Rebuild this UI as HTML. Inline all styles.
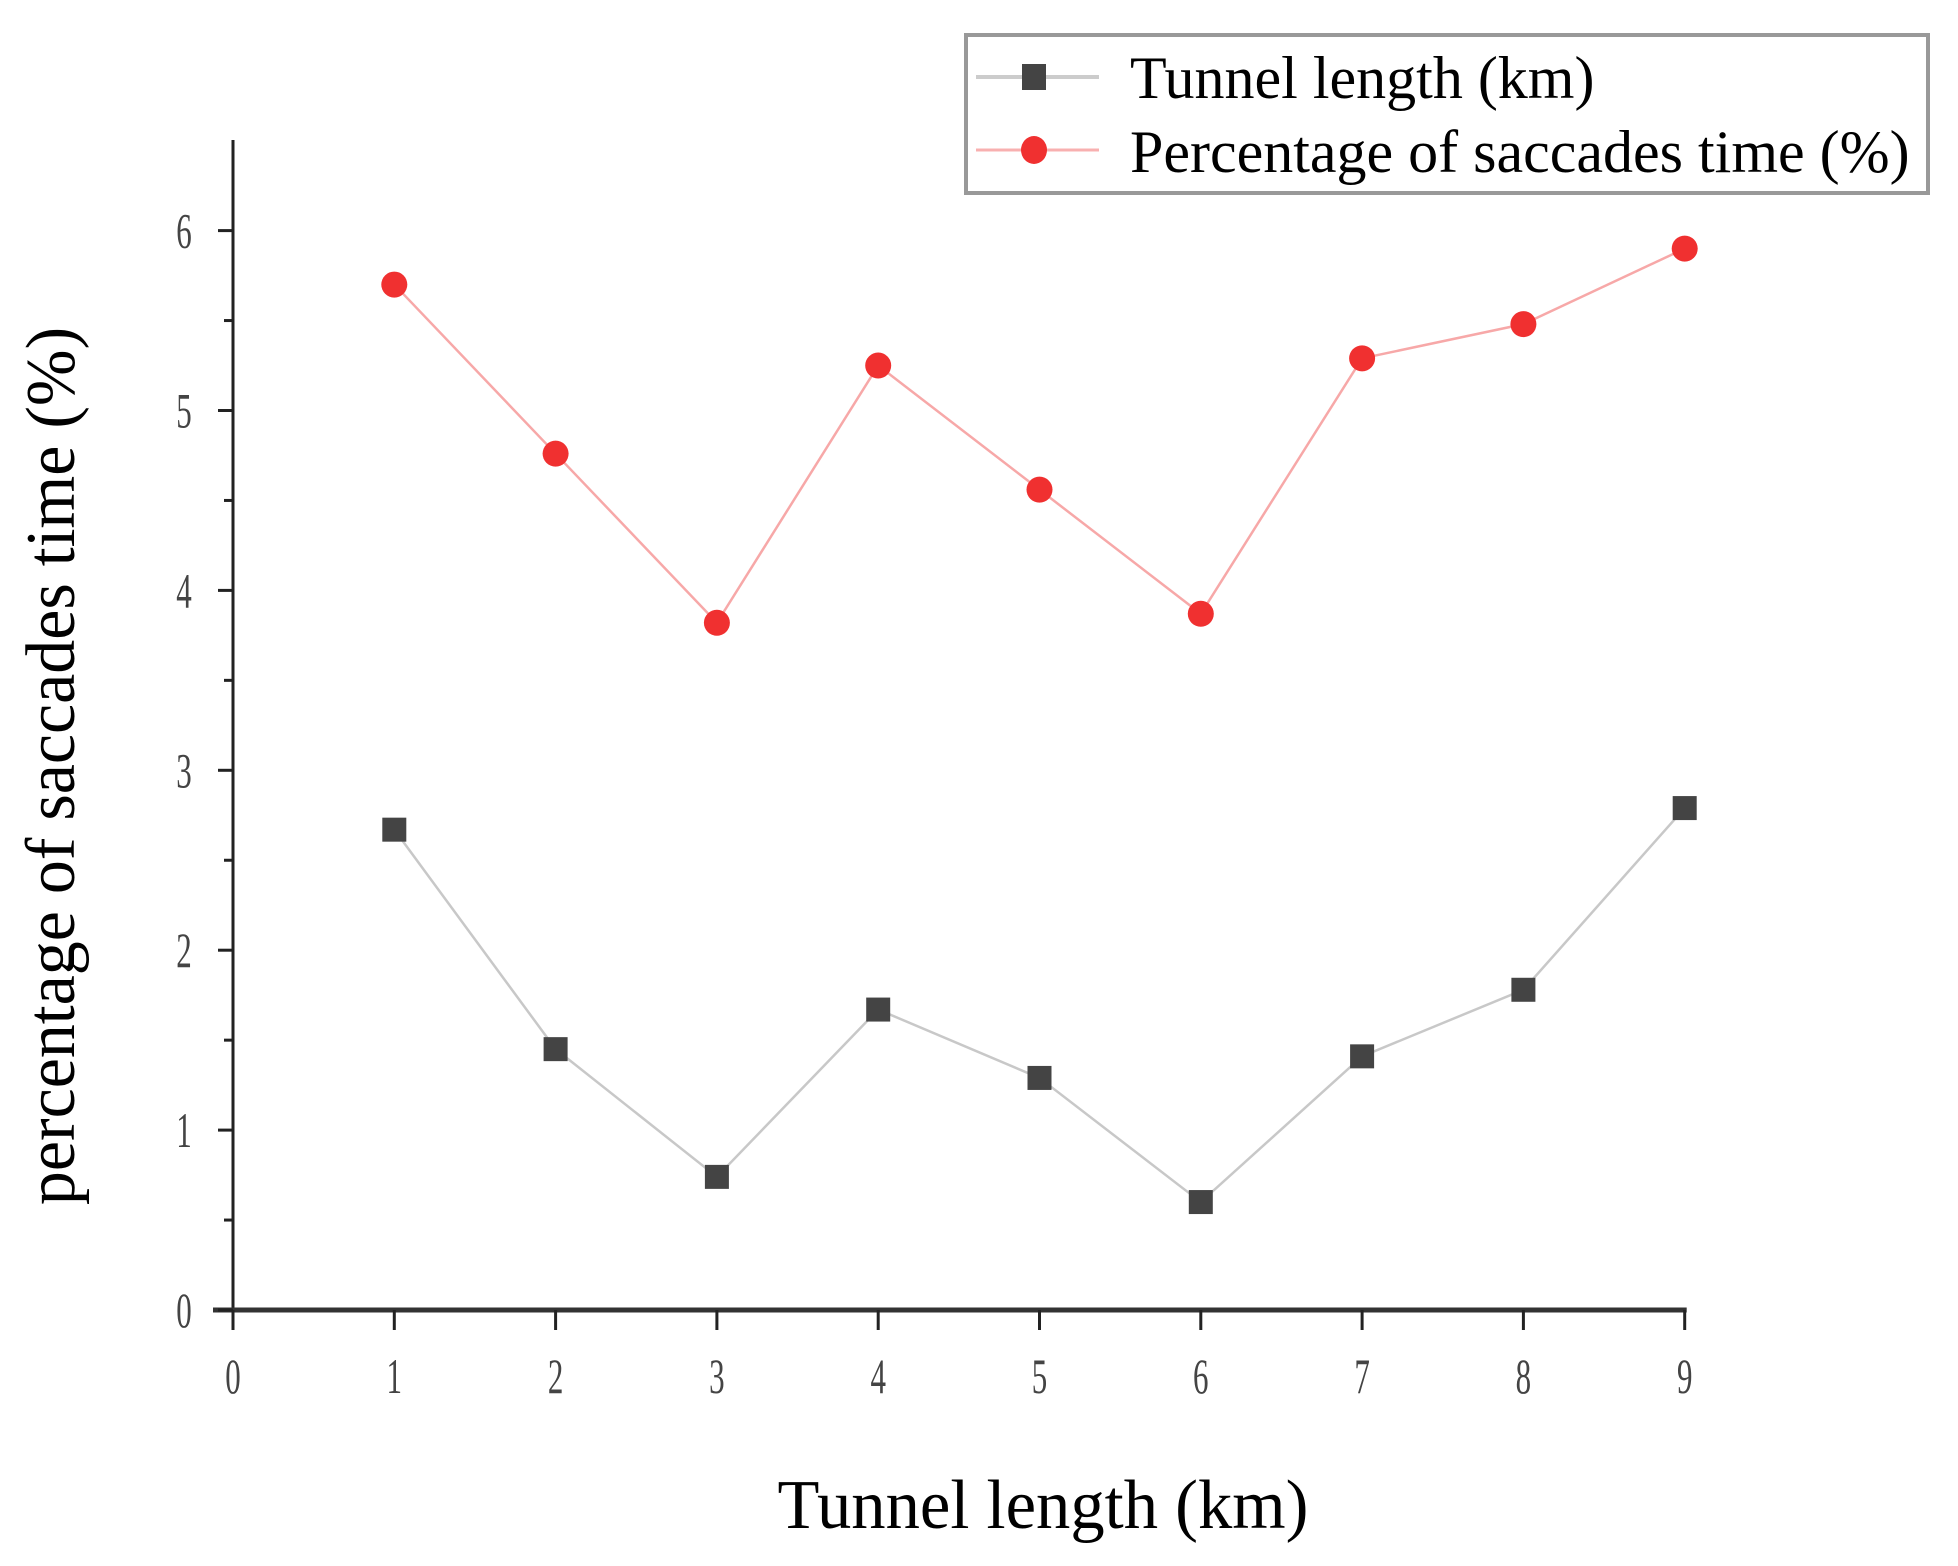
<!DOCTYPE html>
<html><head><meta charset="utf-8"><style>
html,body{margin:0;padding:0;background:#fff;}
svg text{font-family:"Liberation Serif",serif;}
</style></head><body>
<svg id="chart" width="1958" height="1561" viewBox="0 0 1958 1561" xmlns="http://www.w3.org/2000/svg">
<g id="axes"></g>
<g id="series"></g>
<text x="1043" y="1528" font-size="70" text-anchor="middle" transform="translate(1043 0) scale(0.98 1) translate(-1043 0)">Tunnel length (km)</text>
<text x="0" y="0" font-size="70" text-anchor="middle" transform="translate(74 766) rotate(-90) scale(0.97 1)">percentage of saccades time (%)</text>
<g>
<rect x="966" y="35" width="962" height="158" fill="#fff" stroke="#999" stroke-width="4"/>
<g>
<line x1="976" y1="77" x2="1099" y2="77" stroke="#ccc" stroke-width="4"/>
<rect x="1022" y="64" width="24" height="26" fill="#444"/>
<text x="1130" y="98" font-size="60" transform="translate(1130 0) scale(1.0 1) translate(-1130 0)">Tunnel length (km)</text>
</g>
<g>
<line x1="976" y1="150" x2="1099" y2="150" stroke="#f8b0b0" stroke-width="3"/>
<ellipse cx="1034" cy="150" rx="13" ry="14" fill="#f03030"/>
<text x="1130" y="172" font-size="60" transform="translate(1130 0) scale(1.0 1) translate(-1130 0)">Percentage of saccades time (%)</text>
</g>
</g>
</svg>
<script>
const categories = [1,2,3,4,5,6,7,8,9];
const tunnelValues = [2.67,1.45,0.74,1.67,1.29,0.60,1.41,1.78,2.79];
const saccadeValues = [5.70,4.76,3.82,5.25,4.56,3.87,5.29,5.48,5.90];
const xTicks = [0,1,2,3,4,5,6,7,8,9];
const yTicks = [0,1,2,3,4,5,6];

const NS='http://www.w3.org/2000/svg';
function X(v){return 233+v*161.3;}
function Y(v){return 1310-v*179.9;}
function mk(tag,attrs,parent){const e=document.createElementNS(NS,tag);for(const k in attrs)e.setAttribute(k,attrs[k]);parent.appendChild(e);return e;}
const axes=document.getElementById('axes');
const series=document.getElementById('series');

let l=mk('line',{x1:X(0),y1:140,x2:X(0),y2:Y(0),stroke:'#222','stroke-width':3},axes);


l=mk('line',{x1:X(0)-20,y1:Y(0),x2:X(9)+2,y2:Y(0),stroke:'#333','stroke-width':5},axes);



xTicks.forEach(t=>{
  const tk=mk('line',{x1:X(t),y1:Y(0),x2:X(t),y2:Y(0)+20,stroke:'#222','stroke-width':3},axes);
  
  
  const tx=mk('text',{x:X(t),y:1393,'font-size':50,'text-anchor':'middle',fill:'#444',transform:`translate(${X(t)} 0) scale(0.62 1) translate(${-X(t)} 0)`},axes);
  tx.textContent=t;
  
  
});
yTicks.forEach(t=>{
  const tk=mk('line',{x1:X(0)-15,y1:Y(t),x2:X(0),y2:Y(t),stroke:'#222','stroke-width':3},axes);
  
  
  if(t<6){const m=mk('line',{x1:X(0)-9,y1:Y(t+0.5),x2:X(0),y2:Y(t+0.5),stroke:'#222','stroke-width':3},axes);
  
  }
  const tx=mk('text',{x:184,y:Y(t)+17,'font-size':50,'text-anchor':'middle',fill:'#444',transform:`translate(184 0) scale(0.62 1) translate(-184 0)`},axes);
  tx.textContent=t;
  
  
});

function drawSeries(vals,color,lineColor,shape,name){
  const pts=categories.map((c,i)=>X(c)+','+Y(vals[i])).join(' ');
  const pl=mk('polyline',{points:pts,fill:'none',stroke:lineColor,'stroke-width':2.5},series);
  
  
  categories.forEach((c,i)=>{
    let m;
    if(shape==='square') m=mk('rect',{x:X(c)-12,y:Y(vals[i])-12,width:24,height:24,fill:color},series);
    else m=mk('circle',{cx:X(c),cy:Y(vals[i]),r:13,fill:color},series);
    
    
  });
}
drawSeries(tunnelValues,'#444','#c8c8c8','square','tunnel-length');
drawSeries(saccadeValues,'#f03030','#f7a8a8','circle','saccades-time');
</script>
</body></html>
